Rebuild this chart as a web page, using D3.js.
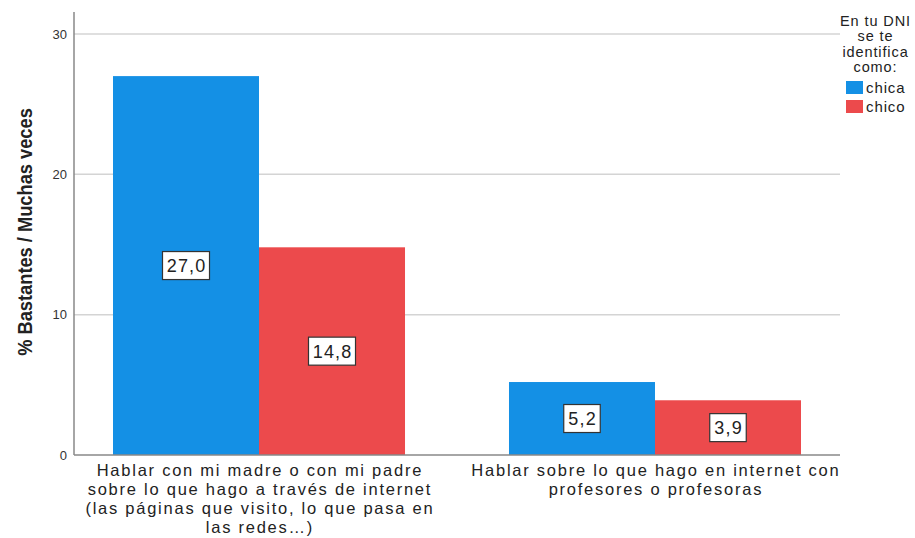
<!DOCTYPE html>
<html><head><meta charset="utf-8">
<script src="https://cdn.jsdelivr.net/npm/d3@7"></script>
<style>
body{margin:0;background:#fff;}
svg{display:block;}
.reg{font-family:"Liberation Sans",Arial,sans-serif;}
</style>
</head><body>
<svg id="c" width="915" height="538"></svg>
<script>
const categories = [
  ["Hablar con mi madre o con mi padre","sobre lo que hago a través de internet","(las páginas que visito, lo que pasa en","las redes…)"],
  ["Hablar sobre lo que hago en internet con","profesores o profesoras"]
];
const categoryKeys = ["padres","profesores"];
const seriesNames = ["chica","chico"];
const chicaValues = [27.0, 5.2];
const chicoValues = [14.8, 3.9];
const yTicks = [0, 10, 20, 30];
const colors = ["#1490e5", "#ec4a4c"];

(function(){
const svg = d3.select("#c");
const mLeft = 74, mRight = 840, mTop = 12, mBottom = 455;

const y = d3.scaleLinear().domain([0, 30]).range([mBottom, 34]);
const x0 = d3.scaleBand().domain(categoryKeys).range([mLeft, mRight]).paddingInner(0.2626).paddingOuter(0.0985);
const x1 = d3.scaleBand().domain(seriesNames).range([0, x0.bandwidth()]);

// gridlines
svg.append("g").selectAll("line").data(yTicks.filter(d => d > 0)).join("line")
  .attr("x1", mLeft).attr("x2", mRight)
  .attr("y1", d => y(d)).attr("y2", d => y(d))
  .attr("stroke", "#d4d4d4").attr("stroke-width", 1.5);

// bars
const data = categoryKeys.map((k, i) => ({key: k, vals: [
  {s: "chica", v: chicaValues[i]}, {s: "chico", v: chicoValues[i]}]}));
const g = svg.append("g").selectAll("g").data(data).join("g")
  .attr("transform", d => `translate(${x0(d.key)},0)`);
g.selectAll("rect").data(d => d.vals).join("rect")
  .attr("x", d => x1(d.s)).attr("width", x1.bandwidth())
  .attr("y", d => y(d.v)).attr("height", d => y(0) - y(d.v))
  .attr("fill", (d, i) => colors[i]);

// value labels
const fmt = v => v.toFixed(1).replace(".", ",");
g.selectAll("g.lab").data(d => d.vals).join("g").attr("class", "lab")
  .attr("transform", d => `translate(${x1(d.s) + x1.bandwidth() / 2},${(y(d.v) + y(0)) / 2})`)
  .each(function(d) {
    const s = d3.select(this);
    const t = fmt(d.v);
    const w = t.length * 10.5 + 5;
    s.append("rect").attr("x", -w / 2).attr("y", -14).attr("width", w).attr("height", 28)
      .attr("fill", "#fff").attr("stroke", "#333").attr("stroke-width", 1.2);
    s.append("text").attr("class", "reg").attr("text-anchor", "middle").attr("dy", "0.36em")
      .attr("x", 0.6).attr("letter-spacing", 1.2)
      .attr("font-size", 18).attr("fill", "#222").text(t);
  });

// axes lines
svg.append("line").attr("x1", mLeft).attr("x2", mLeft).attr("y1", mTop).attr("y2", mBottom)
  .attr("stroke", "#888").attr("stroke-width", 1.5);
svg.append("line").attr("x1", mLeft).attr("x2", mRight).attr("y1", mBottom).attr("y2", mBottom)
  .attr("stroke", "#888").attr("stroke-width", 1.5);

// y tick labels
svg.append("g").selectAll("text").data(yTicks).join("text")
  .attr("class", "reg").attr("x", 67).attr("y", d => y(d)).attr("dy", "0.36em")
  .attr("text-anchor", "end").attr("font-size", 13).attr("fill", "#333").text(d => d);

// y title
svg.append("text").attr("class", "reg")
  .attr("transform", "translate(32,232) rotate(-90) scale(0.87,1)")
  .attr("text-anchor", "middle").attr("font-size", 21).attr("font-weight", "bold")
  .attr("fill", "#222").text("% Bastantes / Muchas veces");

// category labels
categoryKeys.forEach((k, i) => {
  const t = svg.append("text").attr("class", "reg").attr("text-anchor", "middle")
    .attr("font-size", 16.5).attr("letter-spacing", 1.75).attr("fill", "#222");
  categories[i].forEach((line, j) => {
    t.append("tspan").attr("x", x0(k) + x0.bandwidth() / 2 + 0.9).attr("y", 476 + j * 19).text(line);
  });
});

// legend
const lt = svg.append("text").attr("class", "reg").attr("text-anchor", "middle")
  .attr("font-size", 14.5).attr("letter-spacing", 0.9).attr("fill", "#222");
["En tu DNI", "se te", "identifica", "como:"].forEach((l, j) => {
  lt.append("tspan").attr("x", 875.5).attr("y", 25.5 + j * 15.5).text(l);
});
seriesNames.forEach((s, i) => {
  svg.append("rect").attr("x", 846).attr("y", 81 + i * 19).attr("width", 17).attr("height", 13)
    .attr("fill", colors[i]);
  svg.append("text").attr("class", "reg").attr("x", 866).attr("y", 92.5 + i * 19)
    .attr("font-size", 15).attr("letter-spacing", 0.9).attr("fill", "#222").text(s);
});
})();
</script>
</body></html>
